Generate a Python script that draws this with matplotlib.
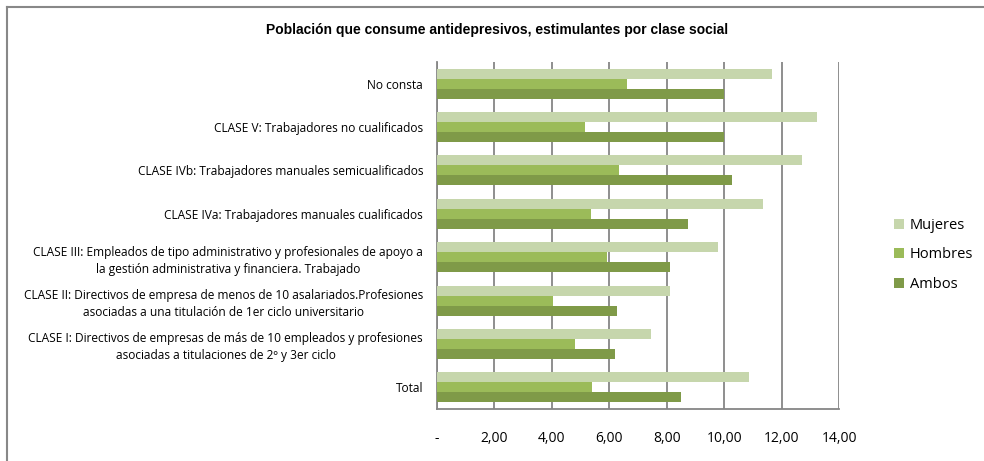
import matplotlib.pyplot as plt
import numpy as np
from matplotlib.lines import Line2D

plt.rcParams['font.family'] = ['Liberation Sans Narrow', 'Liberation Sans', 'DejaVu Sans']

categories = [
    'No consta',
    'CLASE V: Trabajadores no cualificados',
    'CLASE IVb: Trabajadores manuales semicualificados',
    'CLASE IVa: Trabajadores manuales cualificados',
    'CLASE III: Empleados de tipo administrativo y profesionales de apoyo a\nla gestión administrativa y financiera. Trabajado',
    'CLASE II: Directivos de empresa de menos de 10 asalariados.Profesiones\nasociadas a una titulación de 1er ciclo universitario',
    'CLASE I: Directivos de empresas de más de 10 empleados y profesiones\nasociadas a titulaciones de 2º y 3er ciclo',
    'Total',
]
mujeres = [11.65, 13.23, 12.70, 11.33, 9.78, 8.10, 7.44, 10.85]
hombres = [6.60, 5.15, 6.33, 5.37, 5.93, 4.05, 4.79, 5.40]
ambos = [10.00, 10.00, 10.26, 8.72, 8.10, 6.25, 6.20, 8.50]
xticks = [0, 2, 4, 6, 8, 10, 12, 14]
xticklabels = ['-', '2,00', '4,00', '6,00', '8,00', '10,00', '12,00', '14,00']

fig = plt.figure(figsize=(9.84, 4.61), dpi=100)
ax = fig.add_axes([0.444, 0.1128, 0.409, 0.7527])

n = len(categories)
y = np.arange(n)[::-1]
h = 0.23
ax.barh(y + h, mujeres, height=h, color='#C6D6AC', label='Mujeres', zorder=3)
ax.barh(y, hombres, height=h, color='#9BBB59', label='Hombres', zorder=3)
ax.barh(y - h, ambos, height=h, color='#7F9A48', label='Ambos', zorder=3)

ax.set_xlim(0, 14)
ax.set_ylim(-0.5, n - 0.5)
ax.set_xticks(xticks)
ax.set_xticklabels(xticklabels, fontfamily=['Open Sans', 'DejaVu Sans'], fontsize=10)
ax.set_yticks(y)
ax.set_yticklabels(categories, fontfamily=['Open Sans', 'DejaVu Sans'], fontsize=8.6,
                   multialignment='center', linespacing=1.4)
ax.tick_params(axis='x', length=0, pad=16)
ax.tick_params(axis='y', length=0, pad=10)
ax.grid(axis='x', color='#868686', linewidth=1.3, zorder=0)
for s in ['top', 'right']:
    ax.spines[s].set_visible(False)
for s in ['left', 'bottom']:
    ax.spines[s].set_color('#868686')
    ax.spines[s].set_linewidth(1.3)

fig.text(0.505, 0.935, 'Población que consume antidepresivos, estimulantes por clase social',
         ha='center', va='center', fontsize=10, fontweight='bold')

fig.legend(loc='center left', bbox_to_anchor=(0.895, 0.447), frameon=False,
           prop={'family': ['Open Sans', 'DejaVu Sans'], 'size': 10.5},
           handlelength=0.7, handleheight=0.7, handletextpad=0.4, labelspacing=1.0)

fig.add_artist(Line2D([0.007, 0.007], [0, 0.985], transform=fig.transFigure, color='#888888', lw=1.5))
fig.add_artist(Line2D([0.007, 1.0], [0.985, 0.985], transform=fig.transFigure, color='#888888', lw=1.5))

fig.savefig('out.png', dpi=100)
